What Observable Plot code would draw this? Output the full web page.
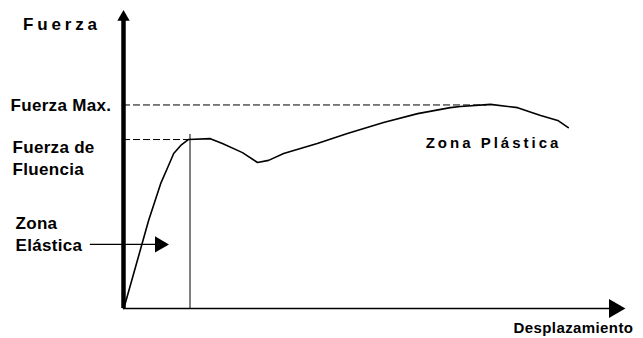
<!DOCTYPE html>
<html>
<head>
<meta charset="utf-8">
<script src="https://cdn.jsdelivr.net/npm/d3@7"></script>
<script src="https://cdn.jsdelivr.net/npm/@observablehq/plot@0.6"></script>
<style>
  html, body { margin: 0; padding: 0; background: #fff; }
  svg { overflow: visible; }
</style>
</head>
<body>
<div id="chart"></div>
<script>
// Curve: displacement vs force (arbitrary units, 0–100)
const displacement = [0, 0.4, 5.0, 7.4, 8.8, 10.0, 11.4, 12.9, 17.3, 19.7, 23.7, 26.7, 28.9, 31.9, 38.6, 44.6, 51.8, 58.6, 65.1, 67.1, 73.1, 78.5, 83.1, 86.5, 88.6];
const force        = [0, 2.0, 29.5, 41.9, 47.3, 52.0, 54.7, 56.7, 57.0, 55.4, 52.3, 49.0, 49.7, 52.0, 55.4, 58.7, 62.4, 65.4, 67.4, 67.8, 68.5, 67.4, 64.8, 63.1, 60.7];

// Key values
const yieldDisp = 13.25;
const yieldForce = 56.7;
const maxDisp = 72.5;
const maxForce = 68.3;

// Axis extents
const axisEnd = [97.0];      // where the axis lines stop (x and y)
const axisArrowTip = [97.8]; // arrow head centre

// Labels (data coordinates)
const leftLabels = ["Fuerza Max.", "Fuerza de\nFluencia", "Zona\nElástica"];
const leftLabelX = [-22.5, -22.1, -21.5];
const leftLabelY = [71.7, 57.4, 31.9];
const elasticArrowX = [-6.6, 6.4];
const elasticArrowY = 21.5;

const curve = displacement.map((d, i) => ({x: d, y: force[i]}));
const left = leftLabels.map((t, i) => ({t, x: leftLabelX[i], y: leftLabelY[i]}));

const font = "'Liberation Sans', Arial, sans-serif";

const chart = Plot.plot({
  width: 643,
  height: 338,
  marginLeft: 123,
  marginRight: 18,
  marginTop: 10,
  marginBottom: 30,
  x: {domain: [0, 100], axis: null},
  y: {domain: [0, 100], axis: null},
  style: {background: "#fff", fontFamily: font},
  marks: [
    // dashed reference lines
    Plot.ruleY([maxForce], {x1: 0, x2: maxDisp, stroke: "#000", strokeWidth: 1, strokeDasharray: "7,3"}),
    Plot.ruleY([yieldForce], {x1: 0, x2: yieldDisp, stroke: "#000", strokeWidth: 1, strokeDasharray: "7,3"}),
    Plot.ruleX([yieldDisp], {y1: 0, y2: yieldForce + 1.7, stroke: "#000", strokeWidth: 1}),
    // axes
    Plot.ruleY([0], {x1: 0, x2: axisEnd[0], stroke: "#000", strokeWidth: 1.5}),
    Plot.ruleX([0], {y1: 0, y2: axisEnd[0], stroke: "#000", strokeWidth: 4.5}),
    Plot.dot([{x: 0, y: axisArrowTip[0]}], {x: "x", y: "y", symbol: "triangle", r: 4.6, fill: "#000", stroke: "none"}),
    Plot.dot([{x: axisArrowTip[0], y: 0}], {x: "x", y: "y", symbol: "triangle", r: 7.05, rotate: 90, fill: "#000", stroke: "none"}),
    // curve
    Plot.line(curve, {x: "x", y: "y", stroke: "#000", strokeWidth: 1.6, curve: "linear"}),
    // elastic zone arrow
    Plot.ruleY([elasticArrowY], {x1: elasticArrowX[0], x2: elasticArrowX[1], stroke: "#000", strokeWidth: 1.2}),
    Plot.dot([{x: 7.2, y: elasticArrowY}], {x: "x", y: "y", symbol: "triangle", r: 6, rotate: 90, fill: "#000", stroke: "none"}),
    // labels
    Plot.text(left, {x: "x", y: "y", text: "t", textAnchor: "start", lineAnchor: "top", lineHeight: 1.3, fontSize: 17, fontWeight: "bold", fill: "#000", fontFamily: font}),
    Plot.text([{t: "Fuerza", x: -20.0, y: 97.65}], {x: "x", y: "y", text: "t", textAnchor: "start", lineAnchor: "top", fontSize: 17, fontWeight: "bold", fill: "#000", fontFamily: font}),
    Plot.text([{t: "Zona Plástica", x: 60.2, y: 57.4}], {x: "x", y: "y", text: "t", textAnchor: "start", lineAnchor: "top", fontSize: 15, fontWeight: "bold", fill: "#000", fontFamily: font}),
    Plot.text([{t: "Desplazamiento", x: 77.7, y: -4.7}], {x: "x", y: "y", text: "t", textAnchor: "start", lineAnchor: "top", fontSize: 15, fontWeight: "bold", fill: "#000", fontFamily: font})
  ]
});

// letter spacing tweaks for the spaced-out labels
chart.querySelectorAll("text").forEach(t => {
  const s = t.textContent;
  if (s === "Fuerza") t.setAttribute("letter-spacing", "3.8");
  else if (s === "Zona Plástica") t.setAttribute("letter-spacing", "3.0");
  else if (s === "Desplazamiento") t.setAttribute("letter-spacing", "0.4");
  else t.setAttribute("letter-spacing", "0.3");
});

document.getElementById("chart").appendChild(chart);
</script>
</body>
</html>
